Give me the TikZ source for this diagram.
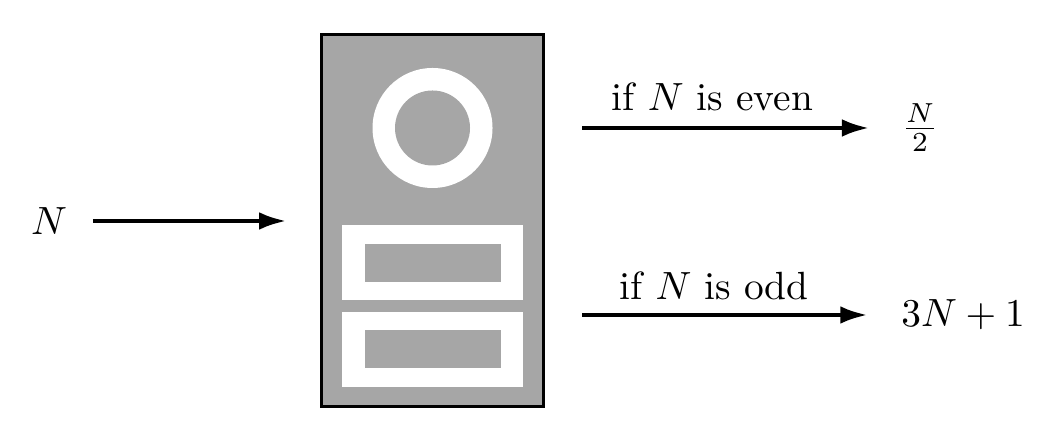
\documentclass[tikz,border=0pt]{standalone}
\usepackage{amsmath}
\usetikzlibrary{arrows.meta}
\definecolor{machinegray}{gray}{0.65}

\begin{document}
\begin{tikzpicture}[x=0.254pt,y=0.254pt]
\tikzstyle{every node}+=[inner sep=0pt]
\tikzstyle{flow}=[line width=1.15pt,-{Latex[length=7pt,width=4.5pt]}]
\useasboundingbox (0,0) rectangle (1064,-444);

% the machine
\node [draw=black,line width=0.9pt,fill=machinegray,minimum width=56.4pt,minimum height=94.5pt] (machine) at (432.5,-220.5) {};
\fill [white] (432.5,-128) circle (60);
\fill [machinegray] (432.5,-128) circle (37.5);
\fill [white] (342,-225) rectangle (523,-300);
\fill [machinegray] (365,-244) rectangle (501,-282);
\fill [white] (342,-312) rectangle (523,-387);
\fill [machinegray] (365,-330) rectangle (501,-368);

\node (nIn) at (49,-221) {$N$};
\node (half) at (920,-128) {$\frac{N}{2}$};
\node (odd) at (963,-315) {$3N+1$};

\draw [flow,shorten <=6.4pt,shorten >=8.4pt] (nIn.east) -- (machine.west |- nIn);
\draw [flow,shorten <=9.4pt,shorten >=7.9pt] (machine.east |- half) -- (half.west)
  node [pos=0.47,above=3.8pt] {if $N$ is even};
\draw [flow,shorten <=9.4pt,shorten >=8.3pt] (machine.east |- odd) -- (odd.west)
  node [pos=0.475,above=3.2pt] {if $N$ is odd};
\end{tikzpicture}
\end{document}
